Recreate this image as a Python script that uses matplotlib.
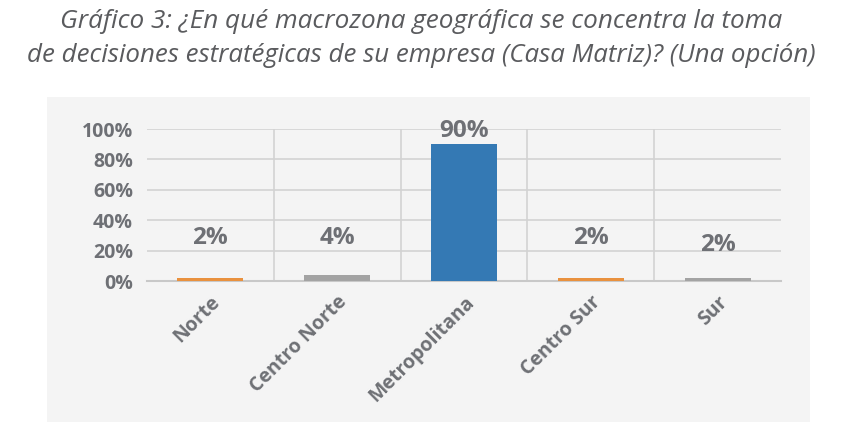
import matplotlib
matplotlib.use("Agg")
import matplotlib.pyplot as plt
from matplotlib.patches import Rectangle
from matplotlib.ticker import MultipleLocator, PercentFormatter

# --- data ---
zonas = ["Norte", "Centro Norte", "Metropolitana", "Centro Sur", "Sur"]
valores = [2, 4, 90, 2, 2]
etiquetas = ["2%", "4%", "90%", "2%", "2%"]
colores = ["#E9913E", "#A3A3A3", "#3479B4", "#E9913E", "#A3A3A3"]
# where Excel put the data labels (in % units)
label_y = [28, 28, 98.5, 28, 24]

TXT = "#6E7075"
GRID = "#D3D3D3"
PANEL = "#F4F4F4"

plt.rcParams["font.family"] = ["Open Sans", "DejaVu Sans"]

fig = plt.figure(figsize=(8.42, 4.4), dpi=100)
W, H = 842, 440

# grey chart panel behind the axes
fig.patches.append(Rectangle((47 / W, 1 - 422 / H), (810 - 47) / W, (422 - 97) / H,
                             transform=fig.transFigure, fc=PANEL, ec="none", zorder=-5))

fig.text(0.5, 1 - 22 / H, "Gráfico 3: ¿En qué macrozona geográfica se concentra la toma",
         ha="center", va="center", fontsize=18.8, style="italic", color="#5A5B5E")
fig.text(0.5, 1 - 55 / H, "de decisiones estratégicas de su empresa (Casa Matriz)? (Una opción)",
         ha="center", va="center", fontsize=18.6, style="italic", color="#5A5B5E")

ax = fig.add_axes([147 / W, 1 - 281 / H, (781 - 147) / W, (281 - 129) / H])
ax.set_facecolor(PANEL)

x = range(len(zonas))
ax.bar(x, valores, width=0.52, color=colores, zorder=3)
for i, (t, y) in enumerate(zip(etiquetas, label_y)):
    ax.text(i, y, t, ha="center", va="center", fontsize=17.5, fontweight="bold", color=TXT, zorder=4)

ax.set_xlim(-0.5, len(zonas) - 0.5)
ax.set_ylim(0, 100)
ax.yaxis.set_major_locator(MultipleLocator(20))
ax.yaxis.set_major_formatter(PercentFormatter(decimals=0))
ax.grid(axis="y", color=GRID, linewidth=1.2, zorder=1)
for b in [0.5, 1.5, 2.5, 3.5]:
    ax.axvline(b, color=GRID, linewidth=1.2, zorder=1)

for s in ["top", "right", "left"]:
    ax.spines[s].set_visible(False)
ax.spines["bottom"].set_color("#C8C8C8")
ax.spines["bottom"].set_linewidth(1.5)

ax.set_xticks(list(x))
ax.set_xticklabels(zonas, rotation=45, ha="right", rotation_mode="anchor",
                   fontsize=14, color=TXT, fontweight="bold")
ax.tick_params(axis="both", length=0, pad=8)
ax.tick_params(axis="y", labelsize=14, labelcolor=TXT, pad=10)
for lab in ax.get_yticklabels():
    lab.set_fontweight("bold")

fig.savefig("out.png", dpi=100, facecolor="white")
